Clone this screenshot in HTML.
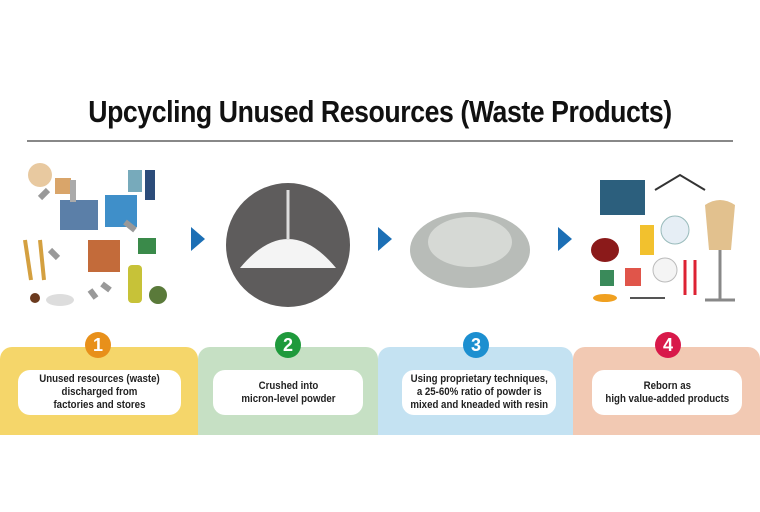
<!DOCTYPE html>
<html><head><style>
body{margin:0;width:760px;height:512px;background:#fff;position:relative;overflow:hidden;font-family:"Liberation Sans",sans-serif}
.t{position:absolute;left:0;width:760px;top:94px;text-align:center;font-weight:bold;font-size:31px;letter-spacing:-0.5px;transform:scaleX(0.86);color:#111}
.line{position:absolute;left:27px;width:706px;top:140px;height:2px;background:#888}
.p{position:absolute;top:347px;height:88px;border-radius:12px 12px 0 0}
.b{position:absolute;top:332px;width:26px;height:26px;border-radius:50%;color:#fff;font-weight:bold;font-size:18px;text-align:center;line-height:26px}
.w{position:absolute;top:370px;height:45px;background:#fff;border-radius:12px;display:flex;align-items:center;justify-content:center;text-align:center;font-weight:bold;font-size:11px;line-height:13px;color:#222;white-space:nowrap}
.w span{display:inline-block;transform:scaleX(0.88)}
.ar{position:absolute;top:227px;width:0;height:0;border-top:12px solid transparent;border-bottom:12px solid transparent;border-left:14px solid #1c6fb5}
</style></head><body>
<div class="t">Upcycling Unused Resources (Waste Products)</div>
<div class="line"></div>

<svg style="position:absolute;left:0;top:150px" width="760" height="170">
<circle cx="40" cy="25" r="12" fill="#e8c9a0"/><rect x="55" y="28" width="16" height="16" fill="#d9a56a"/>
<rect x="60" y="50" width="38" height="30" fill="#5b7fa8"/><rect x="70" y="30" width="6" height="22" fill="#aaa"/>
<rect x="105" y="45" width="32" height="32" fill="#3f8fc9"/><rect x="128" y="20" width="14" height="22" fill="#7ab"/>
<rect x="145" y="20" width="10" height="30" fill="#2c4c7a"/>
<rect x="88" y="90" width="32" height="32" fill="#c36b3a"/><rect x="138" y="88" width="18" height="16" fill="#3a8a4a"/>
<path d="M25 90 l6 40" stroke="#d4a040" stroke-width="4"/><path d="M40 90 l4 40" stroke="#d4a040" stroke-width="4"/>
<ellipse cx="60" cy="150" rx="14" ry="6" fill="#ddd"/><circle cx="35" cy="148" r="5" fill="#6b3a1e"/>
<rect x="128" y="115" width="14" height="38" rx="4" fill="#c7c238"/><circle cx="158" cy="145" r="9" fill="#5a7a3a"/>
<path d="M40 48 l8 -8 M125 72 l10 8 M50 100 l8 8 M110 140 l-8 -6 M90 140 l6 8" stroke="#999" stroke-width="6"/>
<circle cx="288" cy="95" r="62" fill="#5e5c5c"/>
<path d="M240 118 Q288 60 336 118 Z" fill="#f4f4f4"/>
<path d="M288 40 L288 90" stroke="#ddd" stroke-width="3"/>
<ellipse cx="470" cy="100" rx="60" ry="38" fill="#b8bcb8"/>
<ellipse cx="470" cy="92" rx="42" ry="25" fill="#d6d9d5"/>
<rect x="600" y="30" width="45" height="35" fill="#2c5f7d"/><path d="M655 40 l25 -15 l25 15" stroke="#333" fill="none" stroke-width="2"/>
<circle cx="675" cy="80" r="14" fill="#e6eef5" stroke="#9bb" /><rect x="640" y="75" width="14" height="30" fill="#f2c12e"/>
<ellipse cx="605" cy="100" rx="14" ry="12" fill="#8b1a1a"/><circle cx="665" cy="120" r="12" fill="#f4f4f4" stroke="#bbb"/>
<rect x="600" y="120" width="14" height="16" fill="#3a8a5a"/><rect x="625" y="118" width="16" height="18" fill="#e0554a"/>
<path d="M705 55 q15 -10 30 0 l-4 45 h-22 z" fill="#e2c18e"/><path d="M720 100 v50 M705 150 h30" stroke="#888" stroke-width="3"/>
<path d="M685 110 v35 M695 110 v35" stroke="#d23" stroke-width="3"/><ellipse cx="605" cy="148" rx="12" ry="4" fill="#f0a020"/>
<path d="M630 148 h35" stroke="#555" stroke-width="2"/>
</svg>

<div class="ar" style="left:191px"></div>
<div class="ar" style="left:378px"></div>
<div class="ar" style="left:558px"></div>

<div class="p" style="left:0;width:198px;background:#f5d66a"></div>
<div class="p" style="left:198px;width:180px;background:#c6e0c4"></div>
<div class="p" style="left:378px;width:195px;background:#c4e2f2"></div>
<div class="p" style="left:573px;width:187px;background:#f2c9b3"></div>

<div class="b" style="left:85px;background:#e8901a">1</div>
<div class="b" style="left:275px;background:#1f9a3c">2</div>
<div class="b" style="left:463px;background:#1c8fd0">3</div>
<div class="b" style="left:655px;background:#d8194a">4</div>

<div class="w" style="left:18px;width:163px"><span>Unused resources (waste)<br>discharged from<br>factories and stores</span></div>
<div class="w" style="left:213px;width:150px"><span>Crushed into<br>micron-level powder</span></div>
<div class="w" style="left:402px;width:154px"><span>Using proprietary techniques,<br>a 25-60% ratio of powder is<br>mixed and kneaded with resin</span></div>
<div class="w" style="left:592px;width:150px"><span>Reborn as<br>high value-added products</span></div>
</body></html>
